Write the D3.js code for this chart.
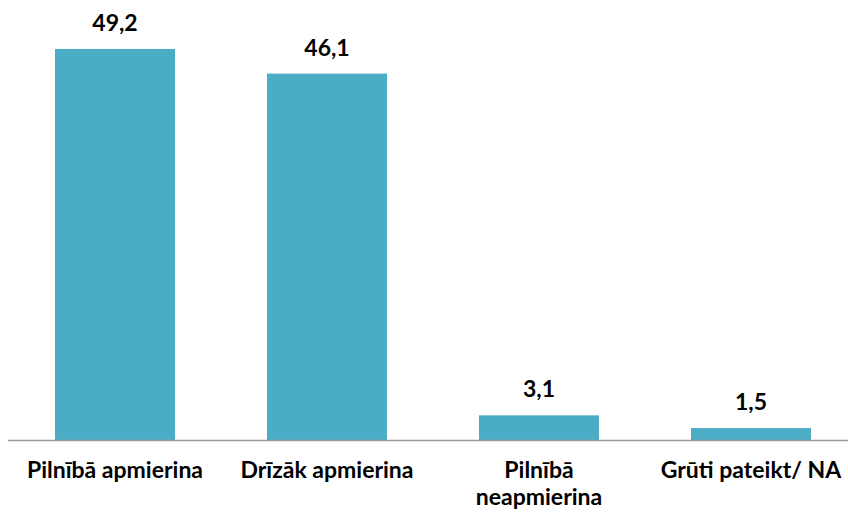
<!DOCTYPE html>
<html>
<head>
<meta charset="utf-8">
<script src="https://cdn.jsdelivr.net/npm/d3@7"></script>
<style>
  body { margin: 0; background: #fff; }
  text { font-family: Lato, "Open Sans", sans-serif; font-weight: bold; fill: #000; }
</style>
</head>
<body>
<div id="chart"></div>
<script>
// chart data
var categories = ["Pilnībā apmierina", "Drīzāk apmierina", "Pilnībā neapmierina", "Grūti pateikt/ NA"];
var values = [49.2, 46.1, 3.1, 1.5];

var width = 848,
    height = 512;

var baseline = 440; // y of the category axis
var bar_color = "#4bacc6";
var font_size = 23;
var wrap_width = 195; // longer labels go on two lines

var svg = d3.select("#chart").append("svg")
    .attr("width", width)
    .attr("height", height);

var x = d3.scaleBand()
    .domain(categories)
    .range([9, 857])
    .paddingInner(0.434)
    .paddingOuter(0.217);

var y = d3.scaleLinear()
    .domain([0, 50])
    .range([baseline, 42.6]);

var data = categories.map(function(c, i) {
    return { cat: c, val: values[i] };
});

// Bars
svg.selectAll("rect.bar").data(data).enter().append("rect")
    .attr("class", "bar")
    .attr("x", function(d) { return x(d.cat); })
    .attr("y", function(d) { return y(d.val); })
    .attr("width", x.bandwidth())
    .attr("height", function(d) { return baseline - y(d.val); })
    .attr("fill", bar_color);

// Axis line
svg.append("line")
    .attr("x1", 8).attr("x2", width)
    .attr("y1", baseline + 0.5).attr("y2", baseline + 0.5)
    .attr("stroke", "#9a9a9a")
    .attr("stroke-width", 1.3);

// Value labels
svg.selectAll("text.value").data(data).enter().append("text")
    .attr("class", "value")
    .attr("x", function(d) { return x(d.cat) + x.bandwidth() / 2; })
    .attr("y", function(d) { return y(d.val) - 18; })
    .attr("text-anchor", "middle")
    .style("font-size", font_size + "px")
    .text(function(d) { return d3.format(".1f")(d.val).replace(".", ","); });

// Category labels, wrapped when too wide
var labels = svg.selectAll("text.cat").data(categories).enter().append("text")
    .attr("class", "cat")
    .attr("text-anchor", "middle")
    .attr("y", 478)
    .style("font-size", font_size + "px");

labels.each(function(c) {
    var t = d3.select(this);
    var cx = x(c) + x.bandwidth() / 2;
    var words = c.split(" ");
    var line = [];
    var tspan = t.append("tspan").attr("x", cx).attr("dy", 0);
    words.forEach(function(w) {
        line.push(w);
        tspan.text(line.join(" "));
        if (tspan.node().getComputedTextLength() > wrap_width && line.length > 1) {
            line.pop();
            tspan.text(line.join(" "));
            line = [w];
            tspan = t.append("tspan").attr("x", cx).attr("dy", "27px").text(w);
        }
    });
});
</script>
</body>
</html>
